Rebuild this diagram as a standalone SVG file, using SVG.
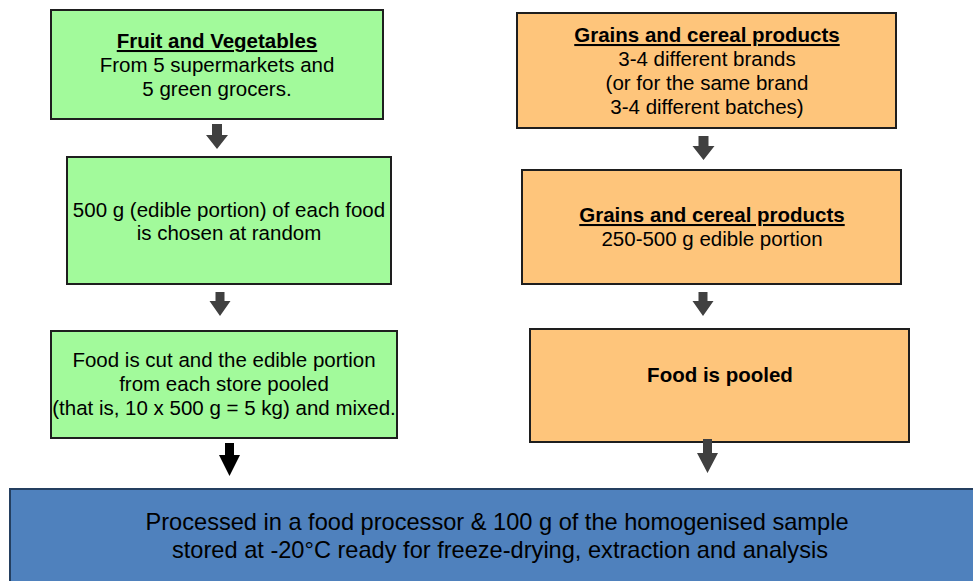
<svg xmlns="http://www.w3.org/2000/svg" width="973" height="581" viewBox="0 0 973 581">
<style>
.g{fill:#a2fa9b;stroke:#1e1e1e;stroke-width:2}
.o{fill:#fec57b;stroke:#1e1e1e;stroke-width:2}
.b{fill:#4f81bd;stroke:#243f60;stroke-width:2}
text{font-family:"Liberation Sans",Arial,sans-serif;font-size:20.5px;fill:#000;text-anchor:middle}
.t{font-weight:bold;text-decoration:underline}
.bt{font-weight:bold}
.big{font-size:23.6px}
.ar{fill:#404040}
.ak{fill:#000}
</style>
<g id="fv1"><rect class="g" x="51" y="10" width="332" height="109"/>
<text x="217" y="48" class="t">Fruit and Vegetables</text>
<text x="217" y="72">From 5 supermarkets and</text>
<text x="217" y="96">5 green grocers.</text></g>
<g id="fv2"><rect class="g" x="67" y="157" width="324" height="127"/>
<text x="229" y="217">500 g (edible portion) of each food</text>
<text x="229" y="240">is chosen at random</text></g>
<g id="fv3"><rect class="g" x="51" y="331" width="346" height="107"/>
<text x="224" y="367">Food is cut and the edible portion</text>
<text x="224" y="391">from each store pooled</text>
<text x="224" y="415">(that is, 10 x 500 g = 5 kg) and mixed.</text></g>
<g id="gc1"><rect class="o" x="517" y="13" width="379" height="115"/>
<text x="707" y="42" class="t">Grains and cereal products</text>
<text x="707" y="66">3-4 different brands</text>
<text x="707" y="90">(or for the same brand</text>
<text x="707" y="114">3-4 different batches)</text></g>
<g id="gc2"><rect class="o" x="522" y="170" width="379" height="114"/>
<text x="712" y="222" class="t">Grains and cereal products</text>
<text x="712" y="246">250-500 g edible portion</text></g>
<g id="gc3"><rect class="o" x="530" y="329" width="379" height="113"/>
<text x="720" y="382" class="bt">Food is pooled</text></g>
<g id="final"><rect class="b" x="10" y="489" width="970" height="100"/>
<text x="497" y="530" class="big">Processed in a food processor &amp; 100 g of the homogenised sample</text>
<text x="500" y="558" class="big">stored at -20°C ready for freeze-drying, extraction and analysis</text></g>
<g id="connectors">
<path class="ar" d="M212 124h10v11h6l-11 14l-11-14h6z"/>
<path class="ar" d="M215.5 292h9v9h6l-10.5 15l-10.5-15h6z"/>
<path class="ak" d="M225 443h9v12h6l-10.5 21l-10.5-21h6z"/>
<path class="ar" d="M698.5 136h10v10h6l-11 14l-11-14h6z"/>
<path class="ar" d="M698.5 292h9v9h6l-10.5 15l-10.5-15h6z"/>
<path class="ar" d="M703 439h9v14h6l-10.5 20l-10.5-20h6z"/>
</g>
</svg>
